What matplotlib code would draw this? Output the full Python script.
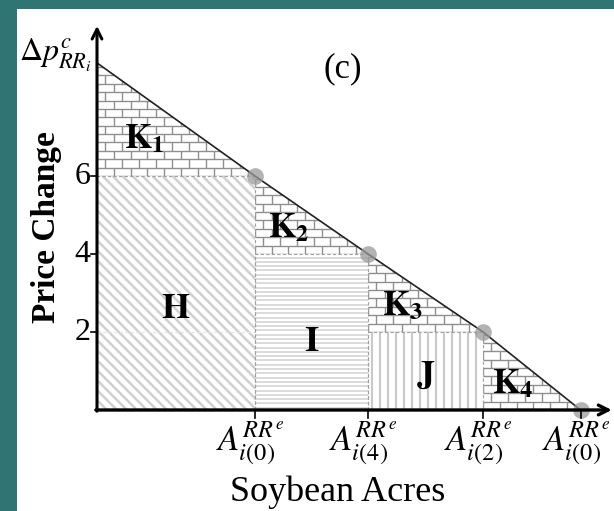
import numpy as np
import matplotlib
matplotlib.use("Agg")
import matplotlib.pyplot as plt
from matplotlib.patches import Polygon, Rectangle
from matplotlib.collections import LineCollection

plt.rcParams['font.family'] = ['Liberation Serif', 'DejaVu Serif']
plt.rcParams['mathtext.fontset'] = 'stix'

# kink points of the price line (acres on x, price change on y)
acres = [4.05, 6.95, 9.9, 12.4]
price_levels = [6, 4, 2, 0]
top_price = 8.9
ytick_values = [2, 4, 6]
acre_subscripts = ['0', '4', '2', '0']
k_labels = ['1', '2', '3', '4']
rect_labels = ['H', 'I', 'J']

teal = '#2e7574'
scale = 39.0           # pixels per data unit
x0_px, y0_px = 97, 410  # origin position in pixels
W, H = 614, 511

fig = plt.figure(figsize=(W / 100, H / 100), dpi=100, facecolor=teal)
fig.add_artist(Rectangle((17 / W, 0), 1, (H - 9) / H, transform=fig.transFigure,
                         facecolor='white', edgecolor='none', zorder=0))
ax = fig.add_axes([0, 0, 1, 1])
ax.set_xlim(-x0_px / scale, (W - x0_px) / scale)
ax.set_ylim(-(H - y0_px) / scale, y0_px / scale)
ax.axis('off')
ax.patch.set_visible(False)


def clipped_lines(patch, segs, color, lw, z=1):
    lc = LineCollection(segs, colors=color, linewidths=lw, zorder=z)
    ax.add_collection(lc)
    lc.set_clip_path(patch)


def bricks(xl, xr, yb, yt, patch):
    row_h, brick_w = 0.215, 0.43
    segs = []
    y = yb
    r = 0
    while y < yt:
        segs.append([(xl, y), (xr, y)])
        off = 0 if r % 2 == 0 else brick_w / 2
        x = xl + off
        while x < xr:
            segs.append([(x, y), (x, y + row_h)])
            x += brick_w
        y += row_h
        r += 1
    clipped_lines(patch, segs, '#8f8f8f', 1.0)


# price line corners
xs = [0] + acres
ys = [top_price] + price_levels
lefts = [0] + acres[:-1]
tops = [top_price] + price_levels[:-1]

# triangles K1..K4 under the line
for i in range(4):
    xl, xr = lefts[i], acres[i]
    yb, yt = price_levels[i], tops[i]
    tri = Polygon([(xl, yb), (xl, yt), (xr, yb)], closed=True,
                  facecolor='white', edgecolor='none', zorder=1)
    ax.add_patch(tri)
    bricks(xl, xr, yb, yt, tri)
    ax.text(xl + 0.3 * (xr - xl), yb + 0.32 * (yt - yb),
            r'$\mathbf{K}_{\mathbf{%s}}$' % k_labels[i],
            fontsize=25, ha='center', va='center', zorder=5)

# rectangles H, I, J
for i in range(3):
    xl, xr = lefts[i], acres[i]
    yt = price_levels[i]
    rect = Rectangle((xl, 0), xr - xl, yt, facecolor='white',
                     edgecolor='none', zorder=1)
    ax.add_patch(rect)
    if i == 0:
        d = 0.256
        segs = [[(x, yt), (x + yt, 0)] for x in np.arange(xl - yt, xr + d, d)]
        clipped_lines(rect, segs, '#d0d0d0', 1.8)
        ax.plot([xl, xr], [2, 2], color='#e4e4e4', lw=0.8, ls=(0, (3, 2)), zorder=2)
    elif i == 1:
        segs = [[(xl, y), (xr, y)] for y in np.arange(0.06, yt, 0.11)]
        clipped_lines(rect, segs, '#d4d4d4', 1.2)
    else:
        segs = [[(x, 0), (x, yt)] for x in np.arange(xl + 0.1, xr, 0.205)]
        clipped_lines(rect, segs, '#c9c9c9', 1.5)
    ax.plot([xl, xl, xr, xr], [0, yt, yt, 0], color='#a0a0a0', lw=0.8,
            ls=(0, (3, 2)), zorder=2)
    ax.text(xl + 0.5 * (xr - xl), 0.43 * yt, r'$\mathbf{%s}$' % rect_labels[i],
            fontsize=26, ha='center', va='center', zorder=5)

# price line and its corner points
ax.plot(xs, ys, color='#222222', lw=1.2, zorder=3)
ax.plot(acres, price_levels, 'o', color='#9a9a9a', alpha=0.75, ms=12,
        mec='none', zorder=4)

# axes with arrows
ax.annotate('', xy=(0, 9.85), xytext=(0, -0.03),
            arrowprops=dict(arrowstyle='->,head_length=0.7,head_width=0.35',
                            lw=2.2, color='black', shrinkA=0, shrinkB=0), zorder=6)
ax.annotate('', xy=(13.2, 0), xytext=(-0.03, 0),
            arrowprops=dict(arrowstyle='->,head_length=0.7,head_width=0.35',
                            lw=2.4, color='black', shrinkA=0, shrinkB=0), zorder=6)

# ticks and tick labels
for v in ytick_values:
    ax.plot([-0.15, 0], [v, v], color='black', lw=1.2, zorder=6)
    ax.text(-0.17, v, str(v), fontsize=23, ha='right', va='center')
for a, s in zip(acres, acre_subscripts):
    ax.plot([a, a], [0, -0.2], color='black', lw=1.2, zorder=6)
    ax.text(a - 0.12, -0.26, r'$A_{i(%s)}^{RR^{e}}$' % s, fontsize=25,
            ha='center', va='top')

ax.text(-1.08, 9.1, r'$\Delta p^{c}_{RR_i}$', fontsize=23, ha='center', va='center')
ax.text(6.3, 8.75, '(c)', fontsize=25, ha='center', va='center')
ax.text(-1.3, 4.7, 'Price Change', fontsize=24, fontweight='bold', rotation=90,
        ha='center', va='center')
ax.text(6.18, -2.1, 'Soybean Acres', fontsize=26, ha='center', va='center')

fig.savefig('out.png', dpi=100, facecolor=teal)
